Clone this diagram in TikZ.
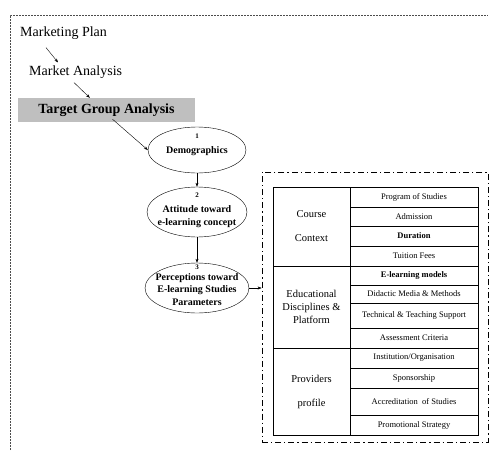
\documentclass[tikz,border=0pt]{standalone}
\usepackage{fontspec}
\setmainfont{Liberation Serif}
\usetikzlibrary{positioning, shapes.geometric, arrows.meta, calc}

\newcommand{\ovalno}[1]{{\fontsize{7}{8}\selectfont #1}}

\begin{document}
\begin{tikzpicture}[x=1pt, y=1pt, >={Stealth[length=4pt, width=3pt]},
    title/.style={inner sep=0pt, font=\fontsize{14}{16}\selectfont},
    oval/.style={draw, ellipse, inner sep=0pt},
    ovaltext/.style={inner sep=0pt, align=center, font=\fontsize{10}{13}\selectfont\bfseries},
    group/.style={draw, line width=0.6pt, minimum width=77pt, inner sep=0pt, outer sep=0pt, align=center, font=\fontsize{10.5}{13}\selectfont},
    row/.style={draw, line width=0.6pt, minimum width=128pt, inner sep=0pt, outer sep=0pt, font=\fontsize{8.5}{10}\selectfont}]
	\useasboundingbox (0,0) rectangle (489,-450);
	
	% outer frame
	\draw[gray!60!black, dash pattern=on 2pt off 1pt] (10,-450) -- (10,-15) -- (488,-15);
	
	\node[title, anchor=west] (plan) at (20,-33) {Marketing Plan};
	\node[title, anchor=west] (market) at (29,-72) {Market Analysis};
	\node[title, fill=gray!50, minimum width=177pt, minimum height=24pt, font=\fontsize{14}{16}\selectfont\bfseries] (target) at (106.5,-110) {Target Group Analysis};
	
	\draw[->] ($(plan.south west)+(26,-8)$) -- ($(market.north west)+(29,3)$);
	\draw[->] ($(market.south west)+(45,-4)$) -- ($(target.north west)+(72,0)$);
	
	% the three steps
	\node[oval, minimum width=98pt, minimum height=46pt] (demo) at (197,-150) {};
	\node[ovaltext] (demotext) at (197,-145) {\ovalno{1}\\[2pt]Demographics};
	\node[oval, minimum width=100pt, minimum height=50pt] (attitude) at (197,-212) {};
	\node[ovaltext] (attitudetext) at (197,-210) {\ovalno{2}\\[2pt]Attitude toward\\e-learning concept};
	\node[oval, minimum width=104pt, minimum height=50pt] (percept) at (197,-288) {};
	\node[ovaltext, font=\fontsize{10}{12.5}\selectfont\bfseries] (percepttext) at (197,-285) {\ovalno{3}\\[-2pt]Perceptions toward\\E-learning Studies\\Parameters};
	
	\draw[->] ($(target.south)+(6,3)$) -- (demo.west);
	\draw[->] (demo.south) -- (attitude.north);
	\draw[->] (attitude.south) -- (percept.north);
	
	% parameters
	\node[draw, line width=0.8pt, dash pattern=on 6pt off 3pt on 1.2pt off 3pt, minimum width=226pt, minimum height=270pt, inner sep=0pt] (panel) at (375,-307) {};
	\draw[->] (percept.east) -- (percept.east -| panel.west);
	
	\node[row, minimum height=20pt, anchor=north west] (program) at (350,-187) {Program of Studies};
	\node[row, minimum height=19pt, below=0pt of program] (admission) {Admission};
	\node[row, minimum height=20pt, below=0pt of admission] (duration) {\textbf{Duration}};
	\node[row, minimum height=20pt, below=0pt of duration] (fees) {Tuition Fees};
	\node[row, minimum height=19pt, below=0pt of fees] (models) {\textbf{E-learning models}};
	\node[row, minimum height=18pt, below=0pt of models] (media) {Didactic Media \& Methods};
	\node[row, minimum height=25pt, below=0pt of media] (support) {Technical \& Teaching Support};
	\node[row, minimum height=20pt, below=0pt of support] (criteria) {Assessment Criteria};
	\node[row, minimum height=20pt, below=0pt of criteria] (institution) {Institution/Organisation};
	\node[row, minimum height=20pt, below=0pt of institution] (sponsor) {Sponsorship};
	\node[row, minimum height=27pt, below=0pt of sponsor] (accredit) {Accreditation\ \ of Studies};
	\node[row, minimum height=20pt, below=0pt of accredit] (promo) {Promotional Strategy};
	
	\node[group, minimum height=79pt, anchor=north east] (course) at (program.north west) {Course\\[11pt]Context};
	\node[group, minimum height=82pt, anchor=north east] (educ) at (models.north west) {Educational\\Disciplines \&\\Platform};
	\node[group, minimum height=87pt, anchor=north east] (provider) at (institution.north west) {Providers\\[11pt]profile};
\end{tikzpicture}
\end{document}
